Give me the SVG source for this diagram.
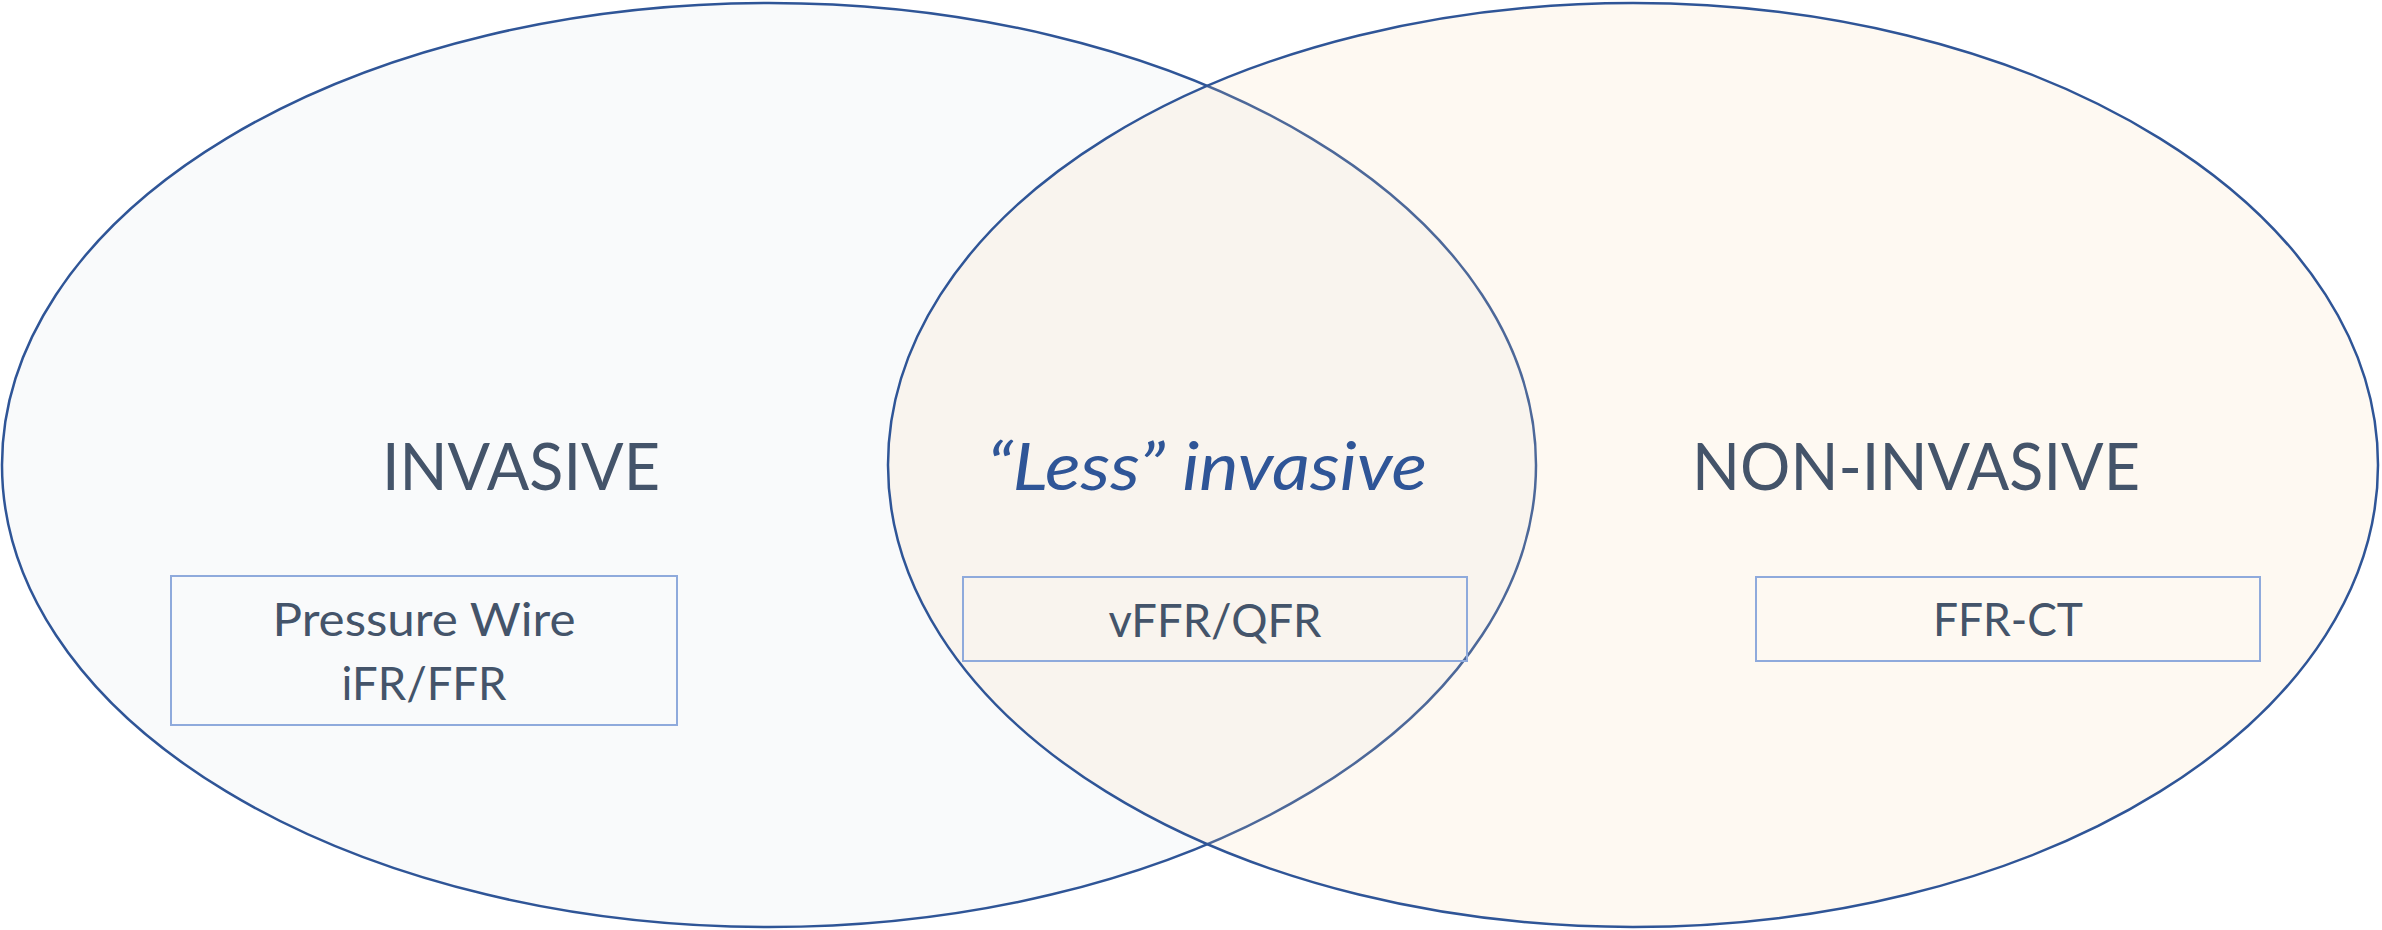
<svg xmlns="http://www.w3.org/2000/svg" width="2382" height="930" viewBox="0 0 2382 930">
<style>
.ell{stroke:#2F5597;stroke-width:2.5}
.box{fill:none;stroke:#8FAADC;stroke-width:2}
.big{font-family:Lato,"Open Sans","Liberation Sans",sans-serif;font-size:66px;fill:#44546A;text-anchor:middle}
.ital{font-style:italic;fill:#2F5597}
.sm{font-family:Lato,"Open Sans","Liberation Sans",sans-serif;font-size:46px;fill:#44546A;text-anchor:middle}
</style>
<rect width="2382" height="930" fill="#FFFFFF"/>
<g id="invasive">
<ellipse class="ell" cx="769" cy="465" rx="767" ry="462" fill="#F9FAFB"/>
</g>
<g id="non-invasive">
<ellipse class="ell" cx="1633" cy="465" rx="745" ry="462" fill="#F8D7A8" fill-opacity="0.15"/>
</g>
<g id="label-invasive">
<text class="big" x="521" y="490" textLength="278" lengthAdjust="spacingAndGlyphs">INVASIVE</text>
</g>
<g id="label-less-invasive">
<text class="big ital" x="1207" y="490" textLength="440" lengthAdjust="spacingAndGlyphs">“Less” invasive</text>
</g>
<g id="label-non-invasive">
<text class="big" x="1916" y="490" textLength="448" lengthAdjust="spacingAndGlyphs">NON-INVASIVE</text>
</g>
<g id="box-pressure-wire">
<rect class="box" x="171" y="576" width="506" height="149"/>
<text class="sm" x="424" y="636" textLength="303" lengthAdjust="spacingAndGlyphs">Pressure Wire</text>
<text class="sm" x="424" y="700" textLength="165" lengthAdjust="spacingAndGlyphs">iFR/FFR</text>
</g>
<g id="box-vffr">
<rect class="box" x="963" y="577" width="504" height="84"/>
<text class="sm" x="1215" y="637" textLength="213" lengthAdjust="spacingAndGlyphs">vFFR/QFR</text>
</g>
<g id="box-ffrct">
<rect class="box" x="1756" y="577" width="504" height="84"/>
<text class="sm" x="2008" y="636" textLength="150" lengthAdjust="spacingAndGlyphs">FFR-CT</text>
</g>
<g id="connectors"/>
</svg>
